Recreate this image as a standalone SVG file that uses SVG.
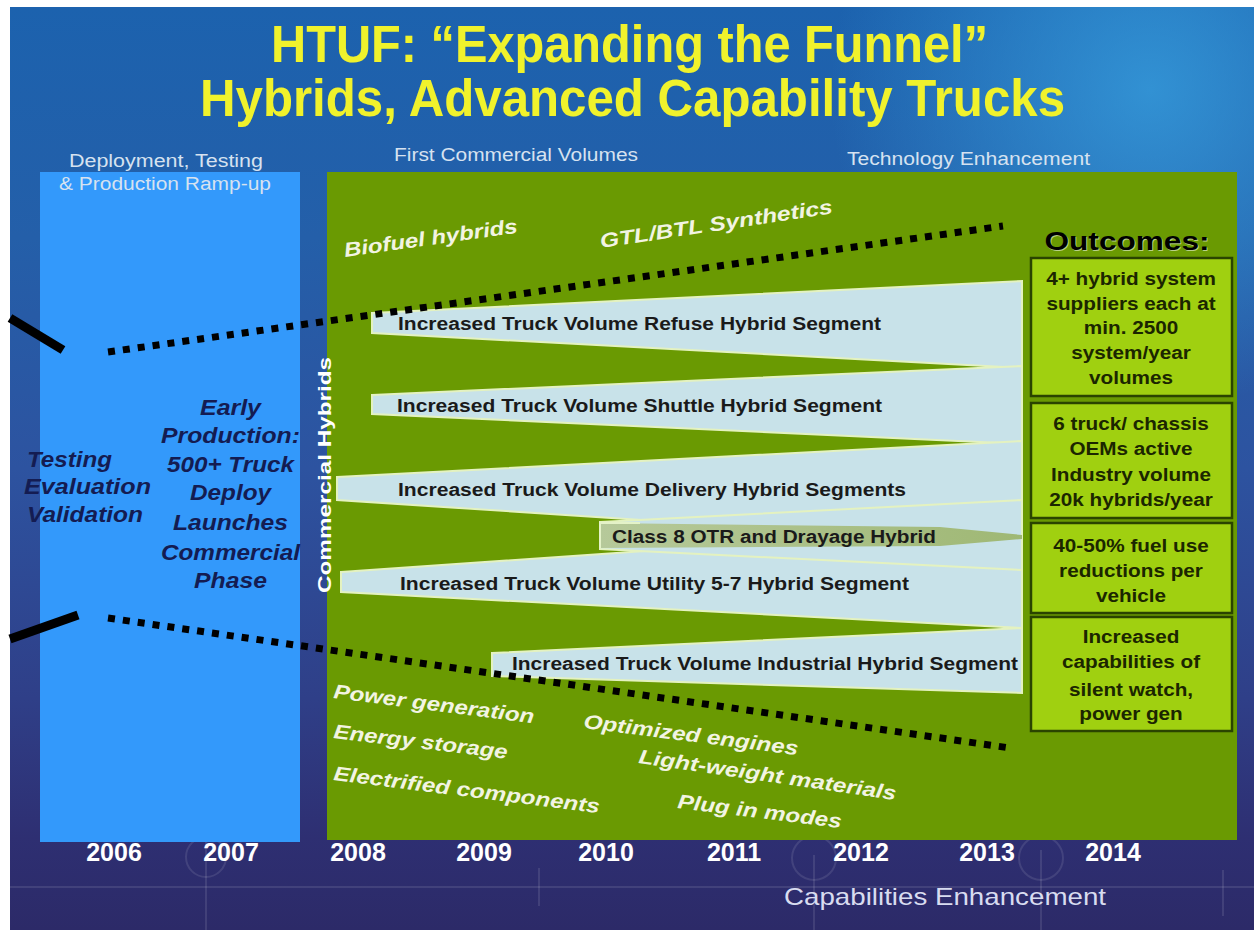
<svg xmlns="http://www.w3.org/2000/svg" width="1254" height="930" viewBox="0 0 1254 930">
  <defs>
    <linearGradient id="bg" x1="0" y1="0" x2="0" y2="1">
      <stop offset="0" stop-color="#1c62ae"/>
      <stop offset="0.25" stop-color="#245fa9"/>
      <stop offset="0.5" stop-color="#2d53a0"/>
      <stop offset="0.75" stop-color="#2f3f88"/>
      <stop offset="0.9" stop-color="#2e2f72"/>
      <stop offset="1" stop-color="#2c2a68"/>
    </linearGradient>
    <radialGradient id="glow" cx="1150" cy="90" r="320" gradientUnits="userSpaceOnUse">
      <stop offset="0" stop-color="#3aa6e4" stop-opacity="0.7"/>
      <stop offset="1" stop-color="#3aa6e4" stop-opacity="0"/>
    </radialGradient>
    <linearGradient id="band" x1="0" y1="0" x2="1" y2="0">
      <stop offset="0" stop-color="#b6c99a"/>
      <stop offset="0.7" stop-color="#a6bd80"/>
      <stop offset="1" stop-color="#9fb874"/>
    </linearGradient>
    <style>
      .sans { font-family: "Liberation Sans", Arial, sans-serif; }
      .title { font-family: "Liberation Sans", Arial, sans-serif; font-weight: bold; font-size: 51px; fill: #f0f22c; }
      .phase { font-family: "Liberation Sans", Arial, sans-serif; font-size: 18px; fill: #d6e2f0; }
      .left { font-family: "Liberation Sans", Arial, sans-serif; font-weight: bold; font-style: italic; font-size: 22px; fill: #141c52; }
      .wedge { fill: #c8e2e9; stroke: #e4f2c0; stroke-width: 2; }
      .wtext { font-family: "Liberation Sans", Arial, sans-serif; font-weight: bold; font-size: 18px; fill: #1a1a1a; }
      .tech { font-family: "Liberation Sans", Arial, sans-serif; font-weight: bold; font-style: italic; font-size: 20px; fill: #f2f4e2; }
      .box { fill: #a0d010; stroke: #2a4400; stroke-width: 2.5; }
      .btext { font-family: "Liberation Sans", Arial, sans-serif; font-weight: bold; font-size: 18.5px; fill: #1b2600; text-anchor: middle; }
      .year { font-family: "Liberation Sans", Arial, sans-serif; font-weight: bold; font-size: 25px; fill: #ffffff; text-anchor: middle; }
      .dots { fill: none; stroke: #000; stroke-width: 7; stroke-dasharray: 7 8; }
      .solid { fill: none; stroke: #000; stroke-width: 9; }
      .faint { fill: none; stroke: #ffffff; stroke-opacity: 0.1; stroke-width: 2; }
    </style>
  </defs>

  <!-- background -->
  <rect x="0" y="0" width="1254" height="930" fill="#ffffff"/>
  <rect x="10" y="7" width="1244" height="923" fill="url(#bg)"/>
  <rect x="10" y="7" width="1244" height="923" fill="url(#glow)"/>
  <g id="bg-lines">
    <line class="faint" x1="10" y1="887" x2="1254" y2="887"/>
    <line class="faint" x1="206" y1="842" x2="206" y2="930"/>
    <line class="faint" x1="539" y1="868" x2="539" y2="906"/>
    <line class="faint" x1="814" y1="855" x2="814" y2="930"/>
    <line class="faint" x1="1041" y1="850" x2="1041" y2="930"/>
    <line class="faint" x1="1223" y1="870" x2="1223" y2="916"/>
    <circle class="faint" cx="206" cy="857" r="20" stroke-opacity="0.07"/>
    <circle class="faint" cx="814" cy="858" r="22" stroke-opacity="0.07"/>
    <circle class="faint" cx="1041" cy="858" r="22" stroke-opacity="0.07"/>
  </g>

  <!-- title -->
  <g id="title">
    <text class="title" x="271" y="62" textLength="717" lengthAdjust="spacingAndGlyphs">HTUF: “Expanding the Funnel”</text>
    <text class="title" x="200" y="116" textLength="865" lengthAdjust="spacingAndGlyphs">Hybrids, Advanced Capability Trucks</text>
  </g>

  <!-- left blue panel -->
  <g id="deploy-panel">
    <rect x="40" y="172" width="260" height="670" fill="#3399fb"/>
    <text class="left" x="27" y="467" textLength="85" lengthAdjust="spacingAndGlyphs">Testing</text>
    <text class="left" x="24" y="494" textLength="127" lengthAdjust="spacingAndGlyphs">Evaluation</text>
    <text class="left" x="27" y="522" textLength="116" lengthAdjust="spacingAndGlyphs">Validation</text>
    <text class="left" x="200" y="415" textLength="61" lengthAdjust="spacingAndGlyphs">Early</text>
    <text class="left" x="161" y="443" textLength="139" lengthAdjust="spacingAndGlyphs">Production:</text>
    <text class="left" x="167" y="472" textLength="127" lengthAdjust="spacingAndGlyphs">500+ Truck</text>
    <text class="left" x="190" y="500" textLength="81" lengthAdjust="spacingAndGlyphs">Deploy</text>
    <text class="left" x="173" y="530" textLength="115" lengthAdjust="spacingAndGlyphs">Launches</text>
    <text class="left" x="161" y="560" textLength="139" lengthAdjust="spacingAndGlyphs">Commercial</text>
    <text class="left" x="194" y="588" textLength="73" lengthAdjust="spacingAndGlyphs">Phase</text>
  </g>

  <!-- green panel -->
  <g id="commercial-panel">
    <rect x="327" y="172" width="910" height="668" fill="#6a9a02"/>
  </g>

  <!-- commercial hybrids label -->
  <g id="commercial-hybrids">
    <text class="sans" transform="translate(331,475) rotate(-90)" text-anchor="middle" font-weight="bold" font-size="19" fill="#ffffff" textLength="236" lengthAdjust="spacingAndGlyphs">Commercial Hybrids</text>
  </g>

  <!-- phase labels -->
  <g id="phase-labels">
    <text class="phase" x="69" y="167" textLength="194" lengthAdjust="spacingAndGlyphs">Deployment, Testing</text>
    <text class="phase" x="59" y="190" textLength="212" lengthAdjust="spacingAndGlyphs">&amp; Production Ramp-up</text>
    <text class="phase" x="394" y="161" textLength="244" lengthAdjust="spacingAndGlyphs">First Commercial Volumes</text>
    <text class="phase" x="847" y="165" textLength="243" lengthAdjust="spacingAndGlyphs">Technology Enhancement</text>
  </g>

  <!-- wedges -->
  <g id="wedge-refuse">
    <polygon class="wedge" points="372,313 1022,281 1022,368 372,333"/>
    <text class="wtext" x="398" y="330" textLength="483" lengthAdjust="spacingAndGlyphs">Increased Truck Volume Refuse Hybrid Segment</text>
  </g>
  <g id="wedge-shuttle">
    <polygon class="wedge" points="372,395 1022,366 1022,444 372,414"/>
    <text class="wtext" x="397" y="412" textLength="485" lengthAdjust="spacingAndGlyphs">Increased Truck Volume Shuttle Hybrid Segment</text>
  </g>
  <g id="wedge-delivery">
    <polygon class="wedge" points="337,477 1022,441 1022,545 337,500"/>
    <text class="wtext" x="398" y="496" textLength="508" lengthAdjust="spacingAndGlyphs">Increased Truck Volume Delivery Hybrid Segments</text>
  </g>
  <g id="wedge-utility">
    <polygon class="wedge" points="341,572 1022,525 1022,628 341,592"/>
    <text class="wtext" x="400" y="590" textLength="509" lengthAdjust="spacingAndGlyphs">Increased Truck Volume Utility 5-7 Hybrid Segment</text>
  </g>
  <g id="wedge-class8">
    <polygon class="wedge" points="600,522 1022,500 1022,570 600,549"/>
    <polygon points="600,523 940,527 1022,535 1022,539 940,546 600,548" fill="url(#band)"/>
    <polyline points="600,548 600,523 640,523" fill="none" stroke="#e4f2c8" stroke-width="2"/>
    <text class="wtext" x="612" y="543" textLength="324" lengthAdjust="spacingAndGlyphs">Class 8 OTR and Drayage Hybrid</text>
  </g>
  <g id="wedge-industrial">
    <polygon class="wedge" points="492,653 1022,628 1022,693 492,676"/>
    <text class="wtext" x="512" y="670" textLength="506" lengthAdjust="spacingAndGlyphs">Increased Truck Volume Industrial Hybrid Segment</text>
  </g>

  <!-- technology labels -->
  <g id="tech-labels">
    <text class="tech" transform="translate(345,257) rotate(-8)" textLength="175" lengthAdjust="spacingAndGlyphs">Biofuel hybrids</text>
    <text class="tech" transform="translate(601,248) rotate(-8.5)" textLength="235" lengthAdjust="spacingAndGlyphs">GTL/BTL Synthetics</text>
    <text class="tech" transform="translate(333,698) rotate(7.2)" textLength="202" lengthAdjust="spacingAndGlyphs">Power generation</text>
    <text class="tech" transform="translate(333,738) rotate(6.8)" textLength="175" lengthAdjust="spacingAndGlyphs">Energy storage</text>
    <text class="tech" transform="translate(333,780) rotate(7.1)" textLength="268" lengthAdjust="spacingAndGlyphs">Electrified components</text>
    <text class="tech" transform="translate(583,728) rotate(7.2)" textLength="216" lengthAdjust="spacingAndGlyphs">Optimized engines</text>
    <text class="tech" transform="translate(638,763) rotate(8.2)" textLength="260" lengthAdjust="spacingAndGlyphs">Light-weight materials</text>
    <text class="tech" transform="translate(677,808) rotate(7)" textLength="165" lengthAdjust="spacingAndGlyphs">Plug in modes</text>
  </g>

  <!-- outcomes -->
  <g id="outcomes-title">
    <text class="sans" x="1128" y="251" text-anchor="middle" font-weight="bold" font-size="26" fill="#ffffff" fill-opacity="0.55" textLength="165" lengthAdjust="spacingAndGlyphs">Outcomes:</text>
    <text class="sans" x="1127" y="250" text-anchor="middle" font-weight="bold" font-size="26" fill="#000000" textLength="165" lengthAdjust="spacingAndGlyphs">Outcomes:</text>
  </g>
  <g id="outcome-1">
    <rect class="box" x="1031" y="258" width="201" height="138"/>
    <g transform="translate(1131,0) scale(1.12,1)">
      <text class="btext" x="0" y="285">4+ hybrid system</text>
      <text class="btext" x="0" y="310">suppliers each at</text>
      <text class="btext" x="0" y="334">min. 2500</text>
      <text class="btext" x="0" y="359">system/year</text>
      <text class="btext" x="0" y="384">volumes</text>
    </g>
  </g>
  <g id="outcome-2">
    <rect class="box" x="1031" y="403" width="201" height="115"/>
    <g transform="translate(1131,0) scale(1.12,1)">
      <text class="btext" x="0" y="430">6 truck/ chassis</text>
      <text class="btext" x="0" y="455">OEMs active</text>
      <text class="btext" x="0" y="481">Industry volume</text>
      <text class="btext" x="0" y="506">20k hybrids/year</text>
    </g>
  </g>
  <g id="outcome-3">
    <rect class="box" x="1031" y="523" width="201" height="90"/>
    <g transform="translate(1131,0) scale(1.12,1)">
      <text class="btext" x="0" y="552">40-50% fuel use</text>
      <text class="btext" x="0" y="577">reductions per</text>
      <text class="btext" x="0" y="602">vehicle</text>
    </g>
  </g>
  <g id="outcome-4">
    <rect class="box" x="1031" y="617" width="201" height="114"/>
    <g transform="translate(1131,0) scale(1.12,1)">
      <text class="btext" x="0" y="643">Increased</text>
      <text class="btext" x="0" y="668">capabilities of</text>
      <text class="btext" x="0" y="696">silent watch,</text>
      <text class="btext" x="0" y="720">power gen</text>
    </g>
  </g>

  <!-- funnel boundary lines -->
  <g id="connectors">
    <line class="solid" x1="10" y1="318" x2="63" y2="350"/>
    <line class="solid" x1="10" y1="639" x2="78" y2="615"/>
    <line class="dots" x1="108" y1="352" x2="1003" y2="226"/>
    <line class="dots" x1="108" y1="618" x2="1010" y2="748"/>
  </g>

  <!-- years -->
  <g id="years">
    <text class="year" x="114" y="861">2006</text>
    <text class="year" x="231" y="861">2007</text>
    <text class="year" x="358" y="861">2008</text>
    <text class="year" x="484" y="861">2009</text>
    <text class="year" x="606" y="861">2010</text>
    <text class="year" x="734" y="861">2011</text>
    <text class="year" x="861" y="861">2012</text>
    <text class="year" x="987" y="861">2013</text>
    <text class="year" x="1113" y="861">2014</text>
  </g>
  <g id="capabilities">
    <text class="sans" x="784" y="905" font-size="24" fill="#d8dcf0" textLength="322" lengthAdjust="spacingAndGlyphs">Capabilities Enhancement</text>
  </g>
</svg>
